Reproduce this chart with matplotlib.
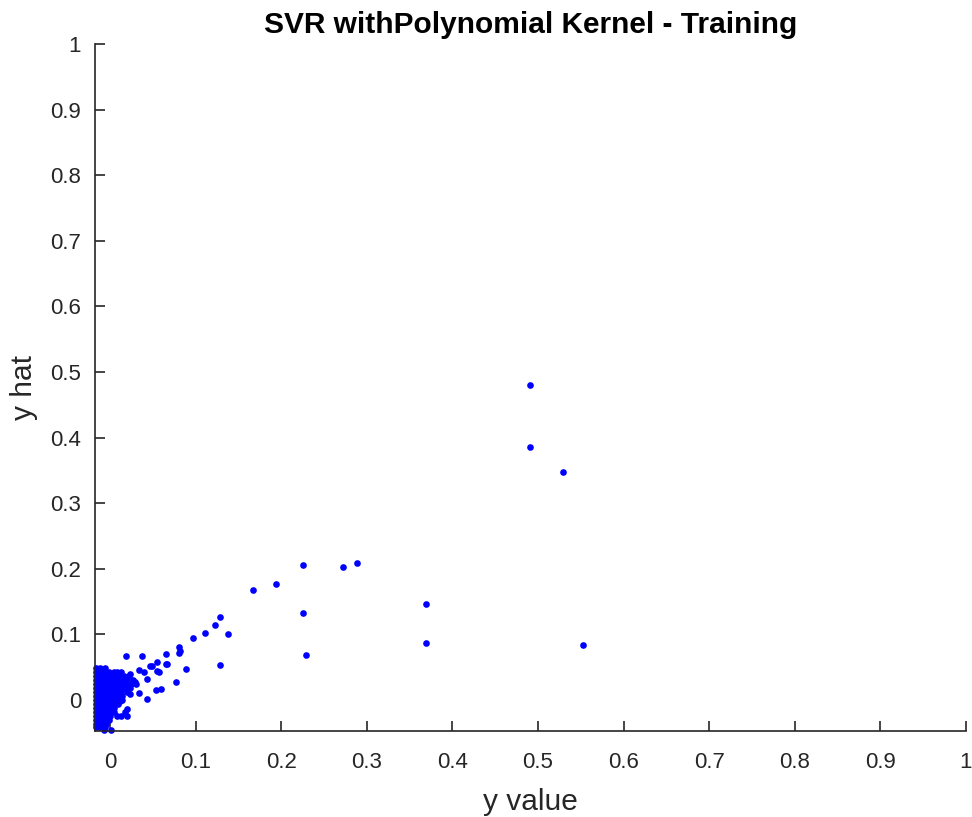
import numpy as np
import matplotlib
matplotlib.use('Agg')
from matplotlib import pyplot as plt

plt.rc('font', family=['Liberation Sans', 'DejaVu Sans'])

# ---- data (y value vs. predicted y hat) ----
# scattered points, outside the dense cluster
y_value_sparse = [0.491, 0.491, 0.529, 0.225, 0.272, 0.288, 0.369, 0.225, 0.369, 0.553,
                  0.229, 0.167, 0.194, 0.128, 0.122, 0.111, 0.137, 0.097, 0.080, 0.080,
                  0.081, 0.065, 0.065, 0.018, 0.037, 0.055, 0.128, 0.088, 0.066, 0.057,
                  0.077, 0.059, 0.053, 0.046, 0.033, 0.055, 0.043, 0.029, 0.033, 0.043,
                  0.020, 0.012, 0.011, 0.023, 0.020, 0.049, 0.039, 0.023, 0.017, 0.008]
y_hat_sparse = [0.480, 0.386, 0.348, 0.205, 0.202, 0.208, 0.146, 0.132, 0.086, 0.083,
                0.068, 0.168, 0.176, 0.127, 0.114, 0.102, 0.100, 0.095, 0.080, 0.071,
                0.074, 0.070, 0.054, 0.067, 0.067, 0.058, 0.053, 0.047, 0.055, 0.043,
                0.027, 0.016, 0.015, 0.052, 0.045, 0.044, 0.032, 0.027, 0.011, 0.001,
                -0.024, -0.024, -0.002, 0.009, -0.014, 0.052, 0.042, 0.039, -0.019, -0.025]

# dense cluster near the origin, one row per y hat level
cluster_rows = {
    0.048: [-0.017, -0.012, -0.006],
    0.042: [-0.017, -0.012, -0.007, -0.002, 0.004, 0.008, 0.012],
    0.036: [-0.017, -0.013, -0.009, -0.004, 0.000, 0.005, 0.010, 0.016, 0.022],
    0.030: [-0.017, -0.013, -0.009, -0.005, -0.001, 0.004, 0.009, 0.014, 0.020, 0.026],
    0.024: [-0.017, -0.013, -0.009, -0.005, -0.001, 0.003, 0.008, 0.013, 0.018, 0.024, 0.030],
    0.018: [-0.017, -0.013, -0.009, -0.005, -0.001, 0.003, 0.007, 0.012, 0.017, 0.023],
    0.012: [-0.017, -0.013, -0.009, -0.005, -0.001, 0.003, 0.007, 0.012, 0.019],
    0.006: [-0.017, -0.013, -0.009, -0.005, -0.001, 0.003, 0.008, 0.014],
    0.000: [-0.017, -0.013, -0.009, -0.005, -0.001, 0.003, 0.008, 0.014],
    -0.006: [-0.017, -0.013, -0.009, -0.005, -0.001, 0.004, 0.009],
    -0.012: [-0.017, -0.013, -0.009, -0.005, -0.001, 0.004],
    -0.018: [-0.017, -0.013, -0.009, -0.005, -0.001, 0.004],
    -0.024: [-0.017, -0.013, -0.009, -0.005, -0.001],
    -0.030: [-0.017, -0.013, -0.009, -0.005, -0.002],
    -0.036: [-0.017, -0.013, -0.009, -0.005],
    -0.042: [-0.017, -0.013, -0.009, -0.006],
    -0.046: [-0.008, 0.001],
}

x_ticks = [0, 0.1, 0.2, 0.3, 0.4, 0.5, 0.6, 0.7, 0.8, 0.9, 1]
y_ticks = [0, 0.1, 0.2, 0.3, 0.4, 0.5, 0.6, 0.7, 0.8, 0.9, 1]
tick_labels = ['0', '0.1', '0.2', '0.3', '0.4', '0.5', '0.6', '0.7', '0.8', '0.9', '1']

x = list(y_value_sparse)
y = list(y_hat_sparse)
for yh, xs in cluster_rows.items():
    x += xs
    y += [yh] * len(xs)

text_col = '#262626'

fig = plt.figure(figsize=(9.72, 8.17), dpi=100)
ax = fig.add_axes([0.0977, 0.1056, 0.8958, 0.8405])

# markers are not clipped at the axes edge, like matlab does
ax.plot(x, y, 'o', color='#0000ff', markersize=4.8, markeredgewidth=0,
        clip_on=False)

ax.set_xlim(-0.018, 1)
ax.set_ylim(-0.047, 1)
ax.set_xticks(x_ticks)
ax.set_xticklabels(tick_labels)
ax.set_yticks(y_ticks)
ax.set_yticklabels(tick_labels)

for side in ['top', 'right']:
    ax.spines[side].set_visible(False)
for side in ['left', 'bottom']:
    ax.spines[side].set_color(text_col)
    ax.spines[side].set_linewidth(1.2)

ax.tick_params(direction='in', length=7, width=1.2, colors=text_col,
               labelsize=16, labelcolor=text_col)
ax.tick_params(axis='x', pad=15)
ax.tick_params(axis='y', pad=10)

ax.set_xlabel('y value', fontsize=21.5, color=text_col, labelpad=11)
ax.set_ylabel('y hat', fontsize=21.5, color=text_col, labelpad=9)
ax.set_title('SVR withPolynomial Kernel - Training', fontsize=21.5,
             fontweight='bold', color='black', pad=8)

fig.savefig('out.png', dpi=100)
